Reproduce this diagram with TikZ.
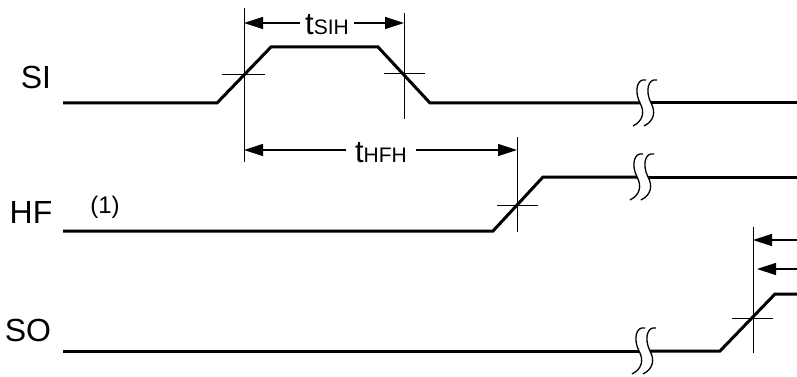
\documentclass[tikz,border=0pt]{standalone}
\usepackage{fontspec}
\setmainfont{Liberation Sans}
\usetikzlibrary{arrows.meta}
\begin{document}
\begin{tikzpicture}[x=1pt,y=-1pt,
  sig/.style={line width=3pt, line join=miter},
  tick/.style={line width=1pt},
  dim/.style={line width=1.3pt, -{Triangle[length=19pt,width=12pt]}},
  lbl/.style={font=\fontsize{32}{36}\selectfont, inner sep=0pt},
  note/.style={font=\fontsize{24}{26}\selectfont, inner sep=0pt},
  tlab/.style={inner sep=5pt},
  brk/.pic={\draw[line width=1.3pt] (6,-23) .. controls (-3,-25) and (-6,-12) .. (0,0) .. controls (5,9) and (3,18) .. (-7,23);}]
\useasboundingbox (0,0) rectangle (797,377);

% labels
\node[lbl] (si) at (36,77) {SI};
\node[lbl] (hf) at (31,212) {HF};
\node[lbl] (so) at (28,330) {SO};
\node[note] (n1) at (105,207) {(1)};

% SI waveform
\coordinate (s0) at (63,103);
\coordinate (s1) at (217,103);
\coordinate (s2) at (271,47);
\coordinate (s3) at (378,47);
\coordinate (s4) at (430,103);
\coordinate (s5) at (640,103);
\coordinate (s6) at (651,103);
\coordinate (s7) at (797,103);
\draw[sig] (s0) -- (s1) -- (s2) -- (s3) -- (s4) -- (s5);
\draw[sig] (s6) -- (s7);
\pic at (s5) {brk};
\pic at (s6) {brk};

% HF waveform
\coordinate (h0) at (63,231);
\coordinate (h1) at (493,231);
\coordinate (h2) at (543,177);
\coordinate (h3) at (637,177);
\coordinate (h4) at (648,177);
\coordinate (h5) at (797,177);
\draw[sig] (h0) -- (h1) -- (h2) -- (h3);
\draw[sig] (h4) -- (h5);
\pic at (h3) {brk};
\pic at (h4) {brk};

% SO waveform
\coordinate (o0) at (63,351);
\coordinate (o1) at (639,351);
\coordinate (o2) at (650,351);
\coordinate (o3) at (720,351);
\coordinate (o4) at (775,294);
\coordinate (o5) at (797,294);
\draw[sig] (o0) -- (o1);
\draw[sig] (o2) -- (o3) -- (o4) -- (o5);
\pic at (o1) {brk};
\pic at (o2) {brk};

% reference (vertical) lines
\coordinate (v1t) at (244,8);   \coordinate (v1b) at (244,162);
\coordinate (v2t) at (404,13);  \coordinate (v2b) at (404,119);
\coordinate (v3t) at (517,137); \coordinate (v3b) at (517,232);
\coordinate (v4t) at (753,227); \coordinate (v4b) at (753,353);
\draw[tick] (v1t) -- (v1b);
\draw[tick] (v2t) -- (v2b);
\draw[tick] (v3t) -- (v3b);
\draw[tick] (v4t) -- (v4b);

% crossing ticks
\coordinate (k1a) at (222,75);  \coordinate (k1b) at (265,75);
\coordinate (k2a) at (384,74);  \coordinate (k2b) at (425,74);
\coordinate (k3a) at (497,205); \coordinate (k3b) at (538,205);
\coordinate (k4a) at (732,318); \coordinate (k4b) at (773,318);
\draw[tick] (k1a) -- (k1b);
\draw[tick] (k2a) -- (k2b);
\draw[tick] (k3a) -- (k3b);
\draw[tick] (k4a) -- (k4b);

% tSIH
\node[tlab, anchor=base] (tsih) at (327,35) {\fontsize{31}{32}\selectfont t\fontsize{21}{24}\selectfont SIH};
\coordinate (a1) at (244,23);
\coordinate (a2) at (404,23);
\draw[dim] (tsih.west |- a1) -- (a1);
\draw[dim] (tsih.east |- a2) -- (a2);

% tHFH
\node[tlab, inner sep=9pt, anchor=base] (thfh) at (381,162) {\fontsize{31}{32}\selectfont t\fontsize{21}{24}\selectfont HFH};
\coordinate (b1) at (244,150);
\coordinate (b2) at (517,150);
\draw[dim] (thfh.west |- b1) -- (b1);
\draw[dim] (thfh.east |- b2) -- (b2);

% SO timing arrows
\coordinate (c1s) at (797,240); \coordinate (c1e) at (753,240);
\coordinate (c2s) at (797,269); \coordinate (c2e) at (757,269);
\draw[dim] (c1s) -- (c1e);
\draw[dim] (c2s) -- (c2e);
\end{tikzpicture}
\end{document}
